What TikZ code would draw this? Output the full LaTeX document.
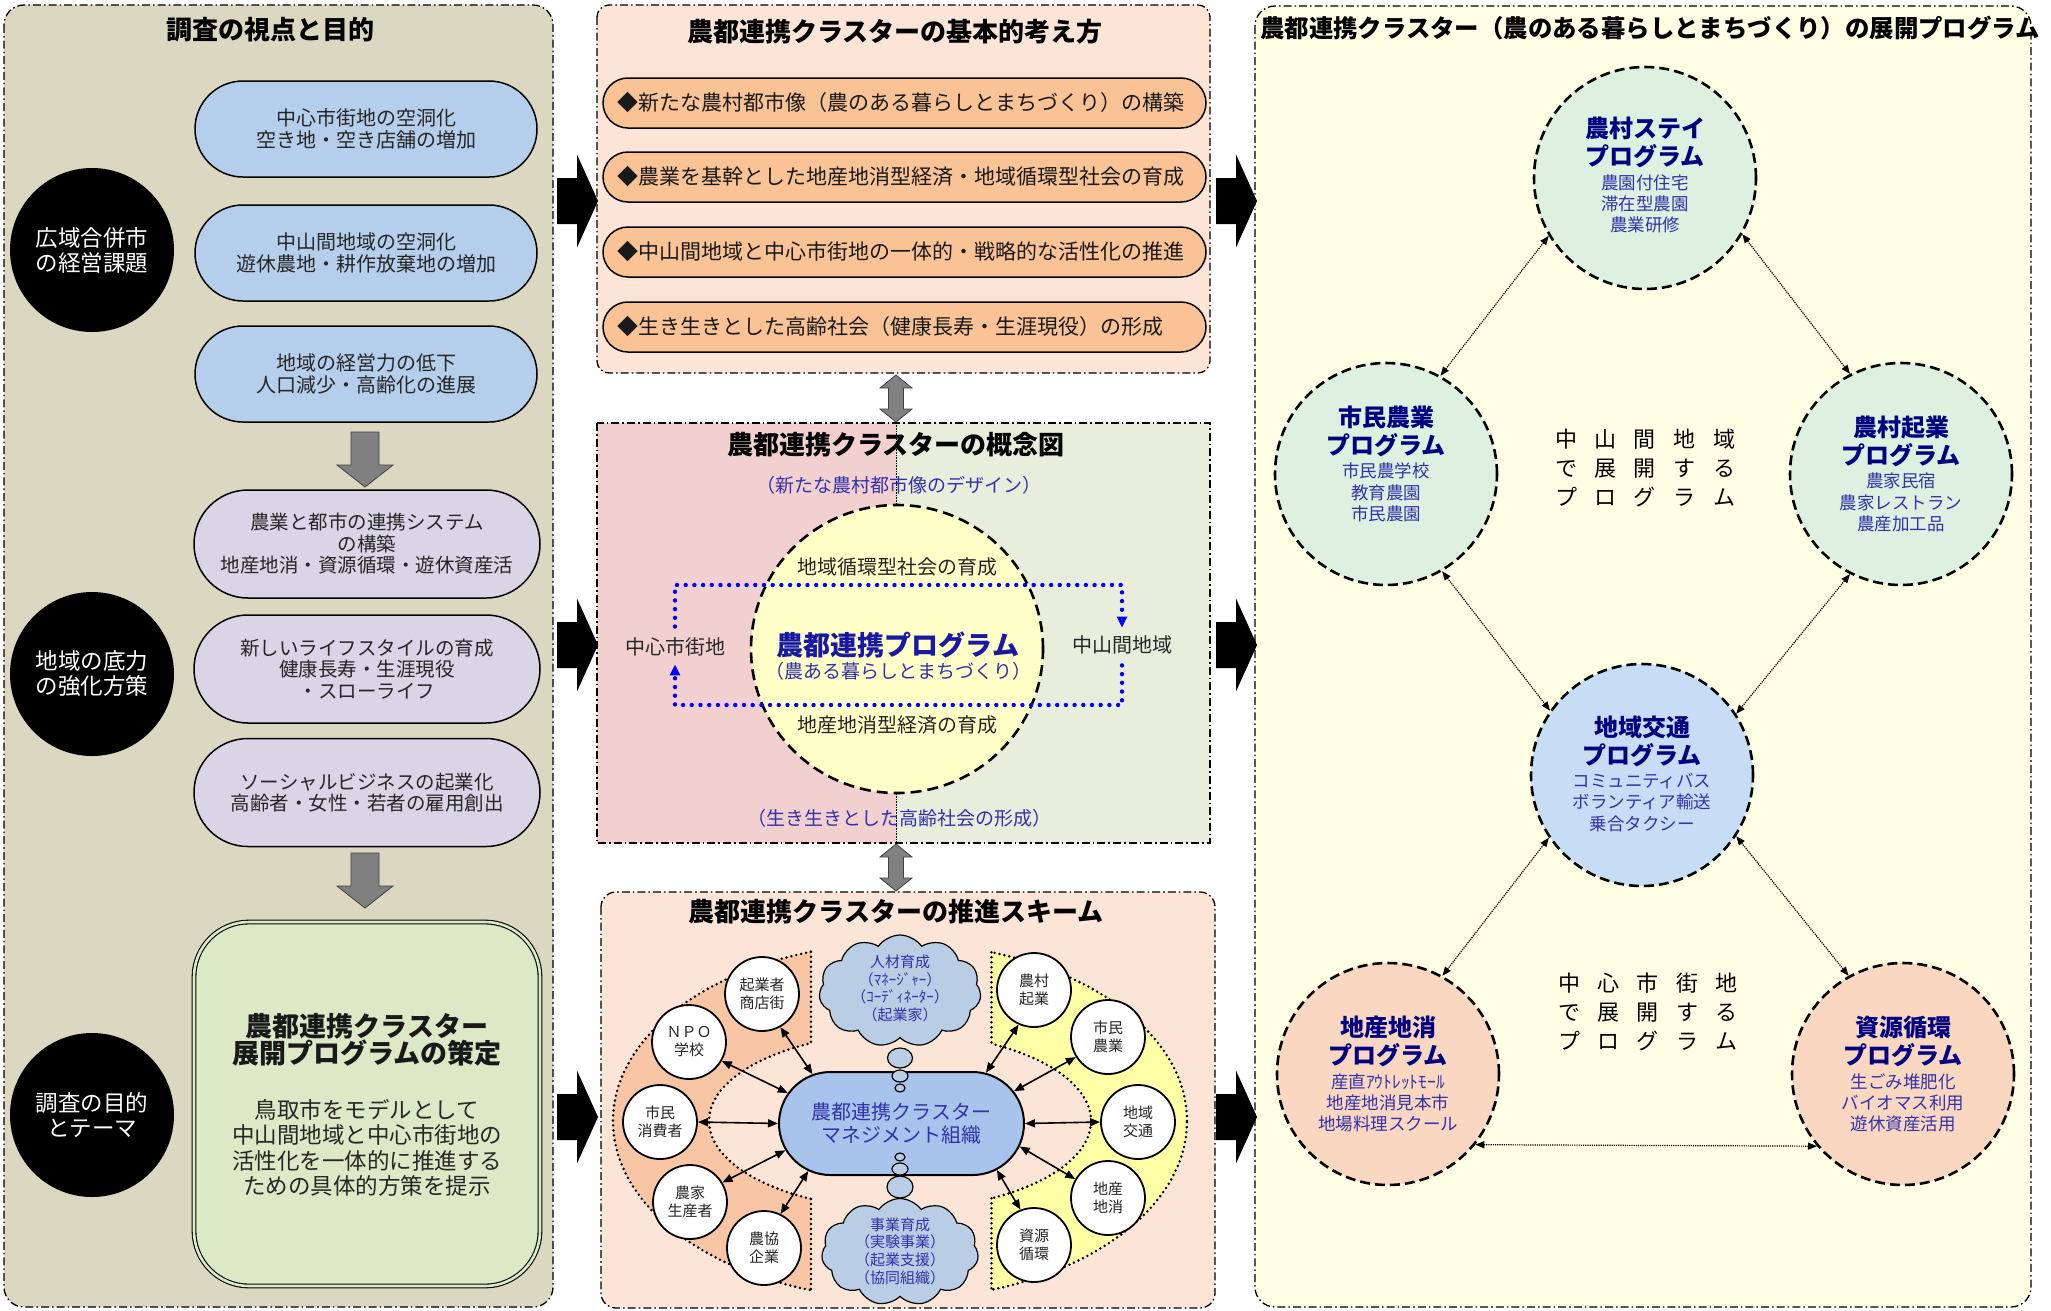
\documentclass[tikz,border=0pt]{standalone}
\usepackage{fontspec}
\setmainfont{Noto Sans CJK JP}
\usetikzlibrary{shapes.geometric,shapes.misc,shapes.symbols,arrows.meta}
\newcommand\setsz[2]{\fontsize{#1}{#2}\selectfont}
\newcommand\gapk{\hspace{17.5pt}}

\definecolor{khaki}{RGB}{219,215,192}
\definecolor{peachbg}{RGB}{252,229,215}
\definecolor{pinkbg}{RGB}{242,208,208}
\definecolor{greenbg}{RGB}{233,238,220}
\definecolor{creambg}{RGB}{254,254,228}
\definecolor{bluefill}{RGB}{181,206,236}
\definecolor{lilacfill}{RGB}{217,212,230}
\definecolor{sagefill}{RGB}{220,233,198}
\definecolor{orangefill}{RGB}{250,195,150}
\definecolor{mgmtfill}{RGB}{168,196,236}
\definecolor{cloudfill}{RGB}{185,205,229}
\definecolor{crescentO}{RGB}{248,198,164}
\definecolor{crescentY}{RGB}{255,255,165}
\definecolor{eggfill}{RGB}{255,255,200}
\definecolor{mintfill}{RGB}{222,241,224}
\definecolor{skyfill}{RGB}{199,221,245}
\definecolor{apricot}{RGB}{250,215,192}
\definecolor{navytext}{RGB}{0,0,128}
\definecolor{bluetext}{RGB}{50,50,170}
\definecolor{progblue}{RGB}{25,25,165}
\definecolor{arrowgray}{RGB}{128,128,128}

\tikzset{
  panel/.style={line width=1.3pt, dash pattern=on 8pt off 3pt on 1.6pt off 3pt},
  ptitle/.style={font=\setsz{26}{29}\bfseries, inner sep=0pt},
  blackdot/.style={circle, fill=black, minimum size=164pt, inner sep=0pt, text=white, align=center, font=\setsz{22.5}{25}},
  bluepill/.style={rectangle, draw, line width=1.5pt, fill=bluefill, minimum width=342pt, minimum height=96pt, rounded corners=48pt, align=center, font=\setsz{20}{22}, text=black!85},
  lilacpill/.style={rectangle, draw, line width=1.5pt, fill=lilacfill, minimum width=346pt, minimum height=108pt, rounded corners=54pt, align=center, font=\setsz{19.5}{21.5}, text=black!85},
  orangerow/.style={rectangle, draw, line width=1.5pt, fill=orangefill, rounded corners=25pt, minimum height=50pt, text width=575pt, inner xsep=14pt, align=left, font=\setsz{21}{24}, text=black!90},
  plain/.style={inner sep=0pt, align=center},
  bluedots/.style={draw=blue, line width=4.4pt, dash pattern=on 0pt off 8.7pt, line cap=round},
  dotline/.style={line width=2.8pt, dash pattern=on 0pt off 5pt, line cap=round},
  actor/.style={circle, draw, line width=1.8pt, fill=white, minimum size=74pt, inner sep=0pt, align=center, font=\setsz{15}{18}, text=black!85},
  linkarr/.style={line width=1.6pt, {Triangle[length=10pt,width=8pt]}-{Triangle[length=10pt,width=8pt]}},
  puff/.style={cloud, draw, fill=cloudfill, line width=1.2pt, cloud puffs=11, cloud puff arc=110, aspect=1.45, inner sep=0pt},
  bubble/.style={ellipse, draw, fill=cloudfill, line width=1.2pt, inner sep=0pt},
  cloudtext/.style={font=\setsz{15}{17.6}, text=bluetext, align=center, inner sep=0pt},
  prog/.style={circle, draw, line width=2.6pt, dash pattern=on 10pt off 5pt, minimum size=222pt, inner sep=0pt},
  progtitle/.style={font=\setsz{24}{28}\bfseries, text=navytext, align=center, inner sep=0pt},
  progsub/.style={font=\setsz{17.5}{21.3}, text=bluetext, align=center, inner sep=0pt},
  midtext/.style={font=\setsz{22}{29}, align=center, inner sep=0pt},
  dotarr/.style={densely dotted, line width=1.2pt, {Triangle[length=9pt,width=7pt]}-{Triangle[length=9pt,width=7pt]}},
  rblk/.pic={\fill[black] (-20,-23) -- (0,-23) -- (0,-46.5) -- (21,0) -- (0,46.5) -- (0,23) -- (-20,23) -- cycle;},
  dgray/.pic={\filldraw[fill=arrowgray, draw=black!75, line width=0.8pt] (-14,0) -- (14,0) -- (14,33) -- (28,33) -- (0,55) -- (-28,33) -- (-14,33) -- cycle;},
  vgray/.pic={\filldraw[fill=arrowgray, draw=black!75, line width=0.8pt] (0,0) -- (16,13) -- (7.5,13) -- (7.5,34) -- (16,34) -- (0,47) -- (-16,34) -- (-7.5,34) -- (-7.5,13) -- (-16,13) -- cycle;}
}

\begin{document}
\begin{tikzpicture}[x=1pt,y=-1pt]
\useasboundingbox (0,0) rectangle (2051,1310);
\fill[white] (0,0) rectangle (2051,1310);

% ---------- panel backgrounds ----------
\draw[panel, fill=khaki, rounded corners=20pt] (4,5) rectangle (553,1307);
\draw[panel, fill=peachbg, rounded corners=12pt] (597,5) rectangle (1210,373);
\fill[pinkbg] (597,423) rectangle (896,843);
\fill[greenbg] (896,423) rectangle (1210,843);
\draw[densely dotted, line width=0.6pt] (896,423) -- (896,843);
\draw[panel] (597,423) rectangle (1210,843);
\draw[panel, fill=peachbg, rounded corners=15pt] (601,892) rectangle (1215,1308);
\draw[panel, fill=creambg, rounded corners=20pt] (1255,6) rectangle (2031,1307);

% ---------- left column: survey viewpoint ----------
\node[ptitle] (ltitle) at (270,30) {調査の視点と目的};
\node[blackdot] (c1) at (92,250) {広域合併市\\の経営課題};
\node[blackdot] (c2) at (92,674) {地域の底力\\の強化方策};
\node[blackdot] (c3) at (92,1115) {調査の目的\\とテーマ};

\node[bluepill] (b1) at (366,129) {中心市街地の空洞化\\空き地・空き店舗の増加};
\node[bluepill] (b2) at (366,253) {中山間地域の空洞化\\遊休農地・耕作放棄地の増加};
\node[bluepill] (b3) at (366,374) {地域の経営力の低下\\人口減少・高齢化の進展};
\pic at (365,432) {dgray};

\node[lilacpill] (p1) at (367,544) {農業と都市の連携システム\\の構築\\地産地消・資源循環・遊休資産活};
\node[lilacpill] (p2) at (367,669) {新しいライフスタイルの育成\\健康長寿・生涯現役\\・スローライフ};
\node[lilacpill] (p3) at (367,792.5) {ソーシャルビジネスの起業化\\高齢者・女性・若者の雇用創出};
\pic at (365,853) {dgray};

\node[rectangle, draw, line width=1.1pt, double=sagefill, double distance=2.6pt, fill=sagefill,
      rounded corners=55pt, minimum width=346pt, minimum height=364pt] (goal) at (367,1104) {};
\node[plain, font=\setsz{27}{27.5}\bfseries, text=black!90] (goalt) at (367,1040) {農都連携クラスター\\展開プログラムの策定};
\node[plain, font=\setsz{22.5}{25.5}, text=black!85] (goalb) at (367,1148) {鳥取市をモデルとして\\中山間地域と中心市街地の\\活性化を一体的に推進する\\ための具体的方策を提示};

% ---------- connecting block arrows ----------
\foreach \yy in {201,645,1117} {
  \pic at (577,\yy) {rblk};
  \pic at (1236,\yy) {rblk};
}
\pic at (896,375) {vgray};
\pic at (896,844) {vgray};

% ---------- basic concept ----------
\node[ptitle] (mtitle) at (895,32) {農都連携クラスターの基本的考え方};
\node[orangerow] (r1) at (904.5,103) {◆新たな農村都市像（農のある暮らしとまちづくり）の構築};
\node[orangerow] (r2) at (904.5,177) {◆農業を基幹とした地産地消型経済・地域循環型社会の育成};
\node[orangerow] (r3) at (904.5,252) {◆中山間地域と中心市街地の一体的・戦略的な活性化の推進};
\node[orangerow] (r4) at (904.5,327) {◆生き生きとした高齢社会（健康長寿・生涯現役）の形成};

% ---------- concept diagram ----------
\node[ptitle] (ctitle) at (896,445) {農都連携クラスターの概念図};
\node[plain, font=\setsz{19}{21}, text=bluetext] (csub1) at (899,485) {（新たな農村都市像のデザイン）};
\node[ellipse, draw, fill=eggfill, line width=2.6pt, dash pattern=on 11pt off 6pt,
      minimum width=292pt, minimum height=288pt, inner sep=0pt] (egg) at (897,649) {};
\node[plain, font=\setsz{20}{22}, text=black!85] (cycle) at (897,567) {地域循環型社会の育成};
\node[plain, font=\setsz{20}{22}, text=black!85] (local) at (897,725) {地産地消型経済の育成};
\node[plain, font=\setsz{27}{28}\bfseries, text=progblue] (prg) at (898,645) {農都連携プログラム};
\node[plain, font=\setsz{19}{21}, text=bluetext] (prgs) at (898,671) {（農ある暮らしとまちづくり）};
\node[font=\setsz{20}{22}, text=black!85, inner sep=3pt] (cityL) at (675,647) {中心市街地};
\node[font=\setsz{20}{22}, text=black!85, inner sep=3pt] (mtn) at (1122,645) {中山間地域};
\coordinate (looptop) at (0,585);
\coordinate (loopbot) at (0,705);
\draw[bluedots, shorten <=8pt, shorten >=5pt, -{Triangle[length=11pt,width=10pt]}]
  (cityL.north) -- (cityL.north |- looptop) -- (mtn.north |- looptop) -- (mtn.north);
\draw[bluedots, shorten <=8pt, shorten >=5pt, -{Triangle[length=11pt,width=10pt]}]
  (mtn.south) -- (mtn.south |- loopbot) -- (cityL.south |- loopbot) -- (cityL.south);
\node[plain, font=\setsz{19}{21}, text=bluetext] (csub2) at (899,818) {（生き生きとした高齢社会の形成）};

% ---------- promotion scheme ----------
\node[ptitle] (stitle) at (896,912) {農都連携クラスターの推進スキーム};
\begin{scope}
  \clip (590,930) rectangle (811,1310);
  \fill[crescentO, even odd rule] (900,1121) ellipse [x radius=287pt, y radius=178pt]
                                  (900,1121) ellipse [x radius=191pt, y radius=88pt];
  \draw[dotline] (900,1121) ellipse [x radius=287pt, y radius=178pt];
  \draw[dotline] (900,1121) ellipse [x radius=191pt, y radius=88pt];
\end{scope}
\begin{scope}
  \clip (991.5,930) rectangle (1210,1310);
  \fill[crescentY, even odd rule] (900,1121) ellipse [x radius=287pt, y radius=178pt]
                                  (900,1121) ellipse [x radius=191pt, y radius=88pt];
  \draw[dotline] (900,1121) ellipse [x radius=287pt, y radius=178pt];
  \draw[dotline] (900,1121) ellipse [x radius=191pt, y radius=88pt];
\end{scope}
\draw[dotline] (811,951.8) -- (811,1043);
\draw[dotline] (811,1199) -- (811,1290.2);
\draw[dotline] (991.5,952.3) -- (991.5,1043.7);
\draw[dotline] (991.5,1198.3) -- (991.5,1289.7);

\node[puff, minimum width=162pt, minimum height=112pt] (cloudA) at (900,991) {};
\node[cloudtext] (cloudAt) at (900,988.5) {人材育成\\（ﾏﾈｰｼﾞｬｰ）\\（ｺｰﾃﾞｨﾈｰﾀｰ）\\（起業家）};
\node[puff, minimum width=157pt, minimum height=107pt] (cloudB) at (900,1252) {};
\node[cloudtext] (cloudBt) at (900,1251) {事業育成\\（実験事業）\\（起業支援）\\（協同組織）};
\node[bubble, minimum width=25pt, minimum height=20pt] (bA1) at (900,1058) {};

\node[rounded rectangle, draw, line width=2pt, fill=mgmtfill, minimum width=245pt,
      minimum height=103pt, inner sep=0pt] (mgmt) at (901.5,1123.5) {};
\node[plain, font=\setsz{20}{23}, text=bluetext] (mgmtt) at (901.5,1123.5) {農都連携クラスター\\マネジメント組織};
\node[bubble, minimum width=16pt, minimum height=12pt] (bA2) at (900,1076) {};
\node[bubble, minimum width=10pt, minimum height=8pt] (bA3) at (900,1088) {};
\node[bubble, minimum width=10pt, minimum height=8pt] (bB1) at (900,1157) {};
\node[bubble, minimum width=16pt, minimum height=12pt] (bB2) at (900,1169) {};
\node[bubble, minimum width=26pt, minimum height=22pt] (bB3) at (900,1187) {};

\node[actor] (kig) at (762,994) {起業者\\商店街};
\node[actor] (npo) at (689,1042) {ＮＰＯ\\学校};
\node[actor] (cons) at (660,1122) {市民\\消費者};
\node[actor] (farm) at (690,1202) {農家\\生産者};
\node[actor] (coop) at (764,1248) {農協\\企業};
\node[actor] (rural) at (1034,990) {農村\\起業};
\node[actor] (citz) at (1108,1037) {市民\\農業};
\node[actor] (trans) at (1138,1122) {地域\\交通};
\node[actor] (lpro) at (1108,1198) {地産\\地消};
\node[actor] (recy) at (1034,1245) {資源\\循環};

\draw[linkarr] (mgmt.151) -- (kig.-61);
\draw[linkarr] (mgmt.165) -- (npo.-30);
\draw[linkarr] (mgmt.180) -- (cons.0);
\draw[linkarr] (mgmt.193) -- (farm.31);
\draw[linkarr] (mgmt.207) -- (coop.64);
\draw[linkarr] (mgmt.31) -- (rural.246);
\draw[linkarr] (mgmt.16) -- (citz.212);
\draw[linkarr] (mgmt.0) -- (trans.180);
\draw[linkarr] (mgmt.-11) -- (lpro.150);
\draw[linkarr] (mgmt.-26) -- (recy.111);

% ---------- development programs ----------
\node[plain, font=\setsz{24.4}{28}\bfseries] (rtitle) at (1650,28) {農都連携クラスター（農のある暮らしとまちづくり）の展開プログラム};

\node[prog, fill=mintfill] (stay) at (1645,178) {};
\node[prog, fill=mintfill] (shimin) at (1386,474) {};
\node[prog, fill=mintfill] (kigyo) at (1901,474) {};
\node[prog, fill=skyfill] (kotsu) at (1642,775) {};
\node[prog, fill=apricot] (chisan) at (1388,1074) {};
\node[prog, fill=apricot] (shigen) at (1903,1074) {};

\node[progtitle] (stayt) at (1645,142) {農村ステイ\\プログラム};
\node[progsub] (stays) at (1645,204) {農園付住宅\\滞在型農園\\農業研修};
\node[progtitle] (shimint) at (1386,431) {市民農業\\プログラム};
\node[progsub] (shimins) at (1386,492.5) {市民農学校\\教育農園\\市民農園};
\node[progtitle] (kigyot) at (1901,441.5) {農村起業\\プログラム};
\node[progsub] (kigyos) at (1901,502.5) {農家民宿\\農家レストラン\\農産加工品};
\node[progtitle] (kotsut) at (1642,741) {地域交通\\プログラム};
\node[progsub] (kotsus) at (1642,802.5) {コミュニティバス\\ボランティア輸送\\乗合タクシー};
\node[progtitle] (chisant) at (1388,1041.5) {地産地消\\プログラム};
\node[progsub] (chisans) at (1388,1103) {産直ｱｳﾄﾚｯﾄﾓｰﾙ\\地産地消見本市\\地場料理スクール};
\node[progtitle] (shigent) at (1903,1041.5) {資源循環\\プログラム};
\node[progsub] (shigens) at (1903,1103) {生ごみ堆肥化\\バイオマス利用\\遊休資産活用};

\node[midtext] (hillprog) at (1645,468) {中\gapk 山\gapk 間\gapk 地\gapk 域\\で\gapk 展\gapk 開\gapk す\gapk る\\プ\gapk ロ\gapk グ\gapk ラ\gapk ム};
\node[midtext] (townprog) at (1648,1012) {中\gapk 心\gapk 市\gapk 街\gapk 地\\で\gapk 展\gapk 開\gapk す\gapk る\\プ\gapk ロ\gapk グ\gapk ラ\gapk ム};

\draw[dotarr] (stay.211) -- (shimin.61);
\draw[dotarr] (stay.330) -- (kigyo.117);
\draw[dotarr] (shimin.-60) -- (kotsu.145);
\draw[dotarr] (kigyo.243) -- (kotsu.33);
\draw[dotarr] (kotsu.214) -- (chisan.61);
\draw[dotarr] (kotsu.327) -- (shigen.119);
\draw[dotarr] (chisan.-39) -- (shigen.220);
\end{tikzpicture}
\end{document}
